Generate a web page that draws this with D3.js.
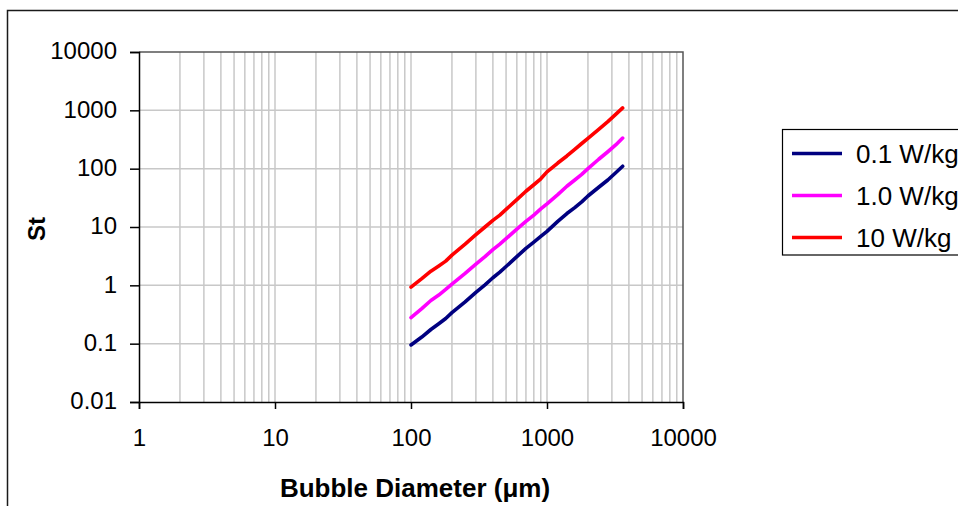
<!DOCTYPE html>
<html>
<head>
<meta charset="utf-8">
<script src="https://cdn.jsdelivr.net/npm/d3@7"></script>
<style>
  body { margin: 0; background: #fff; }
  svg { display: block; font-family: "Liberation Sans", Arial, sans-serif; }
</style>
</head>
<body>
<div id="viz"></div>
<script>
// Bubble diameter (um)
const diameters = [100, 120, 140, 160, 180, 200, 250, 300, 350, 400, 450, 500, 600, 700, 800, 900, 1000, 1200, 1400, 1600, 1800, 2000, 2400, 2800, 3200, 3600];

// Stokes number for each power input
const st01 = [0.095, 0.13, 0.175, 0.22, 0.27, 0.34, 0.52, 0.76, 1.02, 1.35, 1.68, 2.1, 3.1, 4.3, 5.5, 6.9, 8.4, 12.5, 17, 21.5, 27, 34, 48, 64, 85, 110];
const st10 = [0.28, 0.4, 0.55, 0.68, 0.85, 1.05, 1.6, 2.3, 3.1, 4.1, 5.1, 6.3, 9.2, 12.5, 16, 20.5, 25, 36, 50, 64, 80, 100, 145, 195, 255, 335];
const st100 = [0.93, 1.3, 1.75, 2.15, 2.6, 3.3, 5.1, 7.4, 10, 13, 16, 20, 29.5, 41, 53, 67, 88, 125, 165, 215, 270, 330, 470, 640, 850, 1100];

const seriesNames = ['0.1 W/kg', '1.0 W/kg', '10 W/kg'];
const seriesColors = ['#000080', '#ff00ff', '#ff0000'];

const xTicks = [1, 10, 100, 1000, 10000];
const yTicks = [0.01, 0.1, 1, 10, 100, 1000, 10000];

const width = 958, height = 506;
const plot = { left: 139, right: 683, top: 52, bottom: 402 };

const svg = d3.select('#viz')
  .append('svg')
  .attr('width', width)
  .attr('height', height);

// outer chart border (cropped by the picture edge)
svg.append('rect')
  .attr('x', 7.5).attr('y', 10.5)
  .attr('width', 1000).attr('height', 600)
  .attr('fill', 'none')
  .attr('stroke', '#1a1a1a')
  .attr('stroke-width', 1.5);

const x = d3.scaleLog()
  .domain([1, 10000])
  .range([plot.left, plot.right]);

const y = d3.scaleLog()
  .domain([0.01, 10000])
  .range([plot.bottom, plot.top]);

// minor vertical gridlines (2..9 in each decade) and decade lines
const xGrid = [];
for (let e = 0; e < 4; e++) {
  for (let k = 1; k <= 9; k++) xGrid.push(k * Math.pow(10, e));
}
svg.append('g')
  .selectAll('line')
  .data(xGrid.filter(v => v > 1))
  .join('line')
  .attr('x1', d => x(d)).attr('x2', d => x(d))
  .attr('y1', plot.top).attr('y2', plot.bottom)
  .attr('stroke', '#c8c8c8')
  .attr('stroke-width', 1.5);

svg.append('g')
  .selectAll('line')
  .data(yTicks.slice(1, -1))
  .join('line')
  .attr('x1', plot.left).attr('x2', plot.right)
  .attr('y1', d => y(d)).attr('y2', d => y(d))
  .attr('stroke', '#c8c8c8')
  .attr('stroke-width', 1.5);

// top and right frame of the plot area
svg.append('path')
  .attr('d', `M${plot.left},${plot.top}H${plot.right}V${plot.bottom}`)
  .attr('fill', 'none')
  .attr('stroke', '#555')
  .attr('stroke-width', 1.5);

// series
const series = [st01, st10, st100];
const line = d3.line()
  .x((d, i) => x(diameters[i]))
  .y(d => y(d));

svg.append('g')
  .selectAll('path')
  .data(series)
  .join('path')
  .attr('d', d => line(d))
  .attr('fill', 'none')
  .attr('stroke', (d, i) => seriesColors[i])
  .attr('stroke-width', 3.6)
  .attr('stroke-linejoin', 'round')
  .attr('stroke-linecap', 'round');

// axes
const xAxis = svg.append('g')
  .attr('transform', `translate(0,${plot.bottom})`)
  .call(d3.axisBottom(x).tickValues(xTicks).tickFormat(d3.format('d')).tickSize(7).tickPadding(20));

const yAxis = svg.append('g')
  .attr('transform', `translate(${plot.left},0)`)
  .call(d3.axisLeft(y).tickValues(yTicks).tickFormat(d => d < 1 ? String(d) : d3.format('d')(d)).tickSize(9).tickPadding(13));

[xAxis, yAxis].forEach(g => {
  g.select('.domain').attr('stroke', '#000').attr('stroke-width', 1.5);
  g.selectAll('.tick line').attr('stroke', '#000').attr('stroke-width', 1.5);
  g.selectAll('.tick text')
    .attr('fill', '#000')
    .style('font-size', '24px')
    .style('font-family', '"Liberation Sans", Arial, sans-serif');
});
yAxis.selectAll('.tick text').attr('dy', '0.28em');

// axis titles
svg.append('text')
  .attr('x', 415)
  .attr('y', 497)
  .attr('text-anchor', 'middle')
  .style('font-size', '26px')
  .style('font-weight', 'bold')
  .text('Bubble Diameter (μm)');

svg.append('text')
  .attr('transform', 'translate(45,229) rotate(-90)')
  .attr('text-anchor', 'middle')
  .style('font-size', '24px')
  .style('font-weight', 'bold')
  .text('St');

// legend
const legend = svg.append('g');
legend.append('rect')
  .attr('x', 782.5).attr('y', 129.5)
  .attr('width', 300).attr('height', 125.5)
  .attr('fill', '#fff')
  .attr('stroke', '#000')
  .attr('stroke-width', 1.2);

const rows = legend.selectAll('g.row')
  .data(seriesNames)
  .join('g')
  .attr('class', 'row')
  .attr('transform', (d, i) => `translate(0,${153.5 + i * 42})`);

rows.append('line')
  .attr('x1', 792).attr('x2', 842)
  .attr('stroke', (d, i) => seriesColors[i])
  .attr('stroke-width', 3.6);

rows.append('text')
  .attr('x', 856)
  .attr('dy', '0.36em')
  .style('font-size', '26px')
  .text(d => d);
</script>
</body>
</html>
